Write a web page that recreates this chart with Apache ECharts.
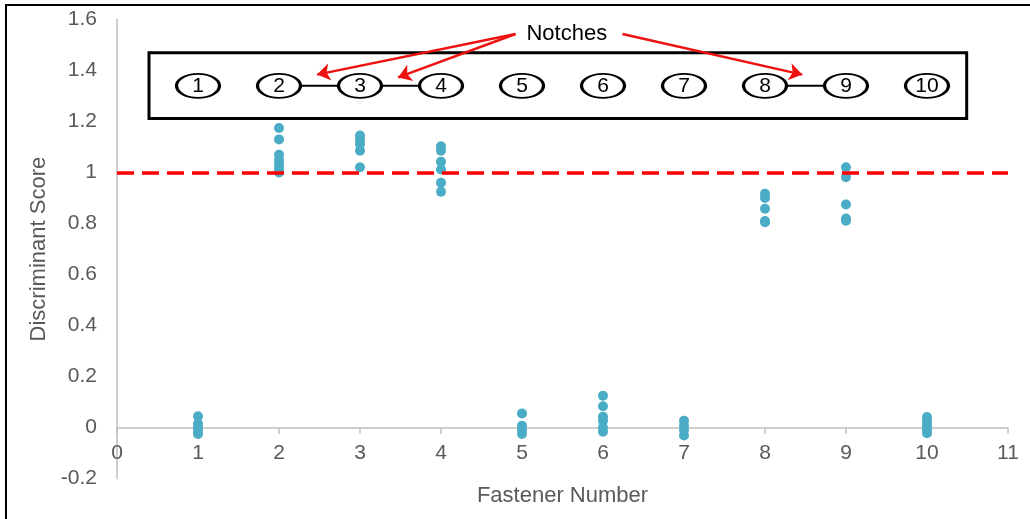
<!DOCTYPE html>
<html>
<head>
<meta charset="utf-8">
<title>Discriminant Score by Fastener</title>
<script src="https://cdn.jsdelivr.net/npm/echarts@6/dist/echarts.min.js"></script>
<style>
  html, body { margin: 0; padding: 0; background: #ffffff; }
  #chart { width: 1030px; height: 519px; }
</style>
</head>
<body>
<div id="chart"></div>
<script>
// Fastener positions along the x axis
const fasteners = [1, 2, 3, 4, 5, 6, 7, 8, 9, 10];

// Discriminant scores measured for each fastener (one list per fastener)
const scores1 = [0.045, 0.015, 0.0, -0.012, -0.025];
const scores2 = [1.175, 1.13, 1.07, 1.05, 1.032, 1.015, 1.0];
const scores3 = [1.145, 1.13, 1.112, 1.086, 1.021];
const scores4 = [1.103, 1.086, 1.042, 1.012, 0.96, 0.925];
const scores5 = [0.056, 0.008, -0.008, -0.025];
const scores6 = [0.125, 0.084, 0.043, 0.027, 0.001, -0.016];
const scores7 = [0.027, 0.008, -0.009, -0.031];
const scores8 = [0.917, 0.9, 0.858, 0.81, 0.805];
const scores9 = [1.021, 0.982, 0.875, 0.82, 0.811];
const scores10 = [0.042, 0.026, 0.01, -0.006, -0.022];
const scoreLists = [scores1, scores2, scores3, scores4, scores5,
                    scores6, scores7, scores8, scores9, scores10];

// Decision threshold
const threshold = 1;

// Fastener layout diagram: labels and notched neighbours
const diagramLabels = ['1', '2', '3', '4', '5', '6', '7', '8', '9', '10'];
const diagramLevel = 1.34;
const notchedPairs = [[2, 3], [3, 4], [8, 9]];
const notchesText = 'Notches';

// Axis ticks
const xTicks = { min: 0, max: 11, step: 1 };
const yTicks = { min: -0.2, max: 1.6, step: 0.2 };

const axisColor = '#bfbfbf';
const textColor = '#595959';
const fontFamily = '"Liberation Sans", Arial, sans-serif';

const CHART_H = 519;
const grid = { left: 117, right: 22, top: 19.5, bottom: 40.3 };
// The fastener axis sits on the zero line of the score axis
const gridHeight = CHART_H - grid.top - grid.bottom;
const zeroShift = -gridHeight * (0 - yTicks.min) / (yTicks.max - yTicks.min);

const dotData = [];
fasteners.forEach((f, i) => {
  scoreLists[i].forEach(v => dotData.push([f, v]));
});

const connectorSeries = notchedPairs.map(pair => ({
  type: 'line',
  data: pair.map(f => [f, diagramLevel]),
  symbol: 'none',
  lineStyle: { color: '#000', width: 2 },
  z: 3,
  silent: true
}));

const chart = echarts.init(document.getElementById('chart'), null, { renderer: 'canvas' });

chart.setOption({
  animation: false,
  backgroundColor: '#ffffff',
  grid: Object.assign({ outerBoundsMode: 'none' }, grid),
  xAxis: {
    type: 'value',
    min: xTicks.min,
    max: xTicks.max,
    interval: xTicks.step,
    offset: zeroShift,
    name: 'Fastener Number',
    nameLocation: 'middle',
    nameGap: 57,
    nameTextStyle: { color: textColor, fontSize: 22, fontFamily },
    axisLine: { onZero: false, lineStyle: { color: axisColor, width: 1.5 } },
    axisTick: { show: true, inside: false, length: 6, lineStyle: { color: axisColor, width: 1.5 } },
    axisLabel: { color: textColor, fontSize: 21, fontFamily, margin: 15 },
    splitLine: { show: false }
  },
  yAxis: {
    type: 'value',
    min: yTicks.min,
    max: yTicks.max,
    interval: yTicks.step,
    name: 'Discriminant Score',
    nameLocation: 'middle',
    nameGap: 61,
    nameTextStyle: { color: textColor, fontSize: 22, fontFamily },
    axisLine: { show: true, onZero: false, lineStyle: { color: axisColor, width: 1.5 } },
    axisTick: { show: false },
    axisLabel: {
      color: textColor, fontSize: 21, fontFamily, margin: 20,
      formatter: v => String(parseFloat(v.toFixed(1)))
    },
    splitLine: { show: false }
  },
  graphic: [
    { type: 'line', shape: { x1: 5, y1: 5, x2: 1030, y2: 5 }, style: { stroke: '#000', lineWidth: 2 }, silent: true },
    { type: 'line', shape: { x1: 6, y1: 5, x2: 6, y2: 519 }, style: { stroke: '#000', lineWidth: 2 }, silent: true }
  ],
  series: [
    {
      name: 'Discriminant Score',
      type: 'scatter',
      data: dotData,
      symbol: 'circle',
      symbolSize: 10,
      itemStyle: { color: '#4bacc6', opacity: 1 },
      z: 4,
      markLine: {
        silent: true,
        symbol: ['none', 'none'],
        label: { show: false },
        lineStyle: { color: '#ff0000', width: 3.5, type: [17, 8] },
        data: [{ yAxis: threshold }]
      }
    },
    ...connectorSeries,
    {
      name: 'Fastener Layout',
      type: 'scatter',
      data: fasteners.map(f => [f, diagramLevel]),
      symbol: 'circle',
      symbolSize: [43, 24],
      itemStyle: { color: '#ffffff', borderColor: '#000000', borderWidth: 2.5, opacity: 1 },
      label: {
        show: true,
        position: 'inside',
        formatter: p => diagramLabels[p.dataIndex],
        color: '#000000',
        fontSize: 21,
        fontFamily
      },
      z: 5,
      silent: true,
      markArea: {
        silent: true,
        itemStyle: { color: 'rgba(0,0,0,0)', borderColor: '#000000', borderWidth: 3, opacity: 1 },
        data: [[{ coord: [0.395, 1.47] }, { coord: [10.49, 1.212] }]]
      },
      markLine: {
        silent: true,
        symbol: ['none', 'arrow'],
        symbolSize: 13,
        label: { show: false },
        lineStyle: { color: '#ee1111', width: 2.5, type: 'solid', opacity: 1 },
        data: [
          [{ coord: [4.92, 1.543] }, { coord: [2.47, 1.384] }],
          [{ coord: [4.92, 1.543] }, { coord: [3.47, 1.373] }],
          [{ coord: [6.24, 1.543] }, { coord: [8.46, 1.384] }]
        ]
      },
      markPoint: {
        silent: true,
        symbol: 'rect',
        symbolSize: 1,
        itemStyle: { color: 'rgba(0,0,0,0)' },
        label: {
          show: true,
          position: 'inside',
          formatter: notchesText,
          color: '#000000',
          fontSize: 22,
          fontFamily
        },
        data: [{ coord: [5.553, 1.543] }]
      }
    }
  ]
});
</script>
</body>
</html>
